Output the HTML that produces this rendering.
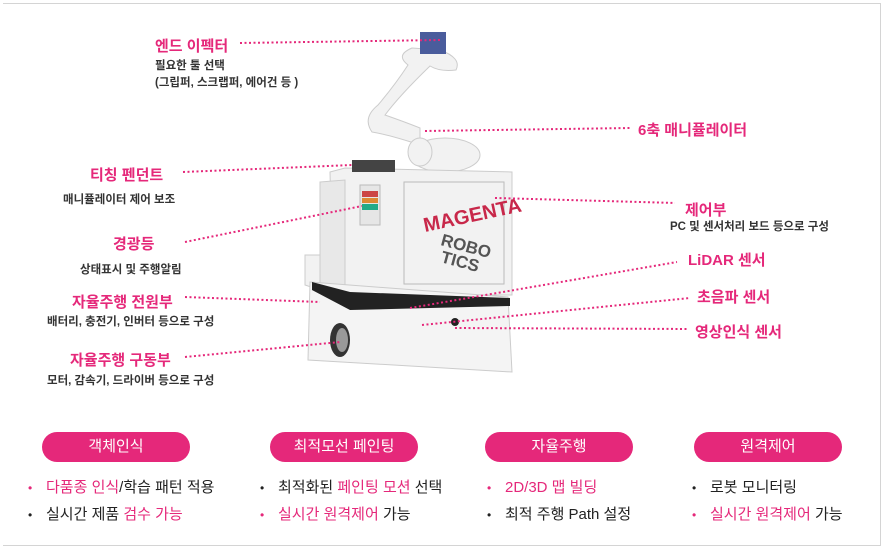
<!DOCTYPE html>
<html><head><meta charset="utf-8"><style>
body{margin:0;width:883px;height:553px;background:#fff;overflow:hidden;font-family:"Liberation Sans","Noto Sans CJK KR",sans-serif}
.frame{position:absolute;left:3px;top:3px;width:877px;height:541px;border:1px solid #d4d4d4;border-left:none}
.t{position:absolute;white-space:nowrap}
.p{color:#e5287a;font-weight:bold;font-size:15px}
.s{color:#333;font-weight:bold;font-size:11.5px;line-height:17px}
.pill{position:absolute;top:432px;width:148px;height:30px;border-radius:15px;background:#e5287a;color:#fff;font-size:15px;text-align:center;line-height:30px}
.b{position:absolute;font-size:15px;color:#222;white-space:nowrap}
.b i{font-style:normal;color:#e5287a}
.dot{display:inline-block;width:18px;font-size:12px}
</style></head><body>
<div class="frame"></div>
<svg width="883" height="553" style="position:absolute;left:0;top:0">
<g fill="#f2f2f2" stroke="#ccc" stroke-width="1">
<path d="M408 65 Q395 55 412 48 L440 50 Q462 58 456 70 Q440 72 430 66 Q400 95 385 115 Q405 122 420 128 L420 145 Q390 135 372 132 Q362 118 378 105 Q395 85 408 65Z"/>
<ellipse cx="445" cy="155" rx="35" ry="17"/>
<ellipse cx="420" cy="152" rx="12" ry="14"/>
<path d="M330 172 L345 168 L512 172 L512 295 L333 295Z"/>
<path d="M320 182 L345 180 L345 295 L320 290Z" fill="#e8e8e8"/>
<path d="M305 255 L320 255 L320 290 L305 285Z"/>
<path d="M310 282 L508 297 L512 372 L308 360Z" fill="#f4f4f4"/>
</g>
<rect x="420" y="32" width="26" height="22" fill="#4a5c9c"/>
<path d="M352 160 L395 160 L395 172 L352 172Z" fill="#444"/>
<path d="M312 282 L350 292 L510 298 L510 306 L350 310 L312 290Z" fill="#222"/>
<rect x="360" y="185" width="20" height="40" fill="#e6e6e6" stroke="#bbb"/>
<rect x="362" y="191" width="16" height="6" fill="#c44"/><rect x="362" y="198" width="16" height="5" fill="#d83"/><rect x="362" y="204" width="16" height="6" fill="#2a8"/>
<rect x="404" y="182" width="100" height="102" fill="none" stroke="#bbb"/>
<text x="425" y="232" font-size="20" font-weight="bold" fill="#c8284a" font-family="Liberation Sans" transform="rotate(-12 425 232)">MAGENTA</text>
<text x="440" y="245" font-size="17" font-weight="bold" fill="#555" font-family="Liberation Sans" transform="rotate(15 440 245)">ROBO</text>
<text x="440" y="262" font-size="17" font-weight="bold" fill="#555" font-family="Liberation Sans" transform="rotate(15 440 262)">TICS</text>
<ellipse cx="340" cy="340" rx="10" ry="17" fill="#333"/><ellipse cx="342" cy="340" rx="6" ry="12" fill="#999"/>
<circle cx="455" cy="322" r="4" fill="#222"/>
<g stroke="#e5287a" stroke-width="2" stroke-dasharray="2 2.5" fill="none">
<line x1="240" y1="43" x2="440" y2="40"/>
<line x1="425" y1="131" x2="630" y2="128"/>
<line x1="183" y1="172" x2="352" y2="165"/>
<line x1="495" y1="198" x2="675" y2="203"/>
<line x1="185" y1="242" x2="362" y2="206"/>
<line x1="410" y1="308" x2="677" y2="262"/>
<line x1="185" y1="297" x2="320" y2="302"/>
<line x1="422" y1="325" x2="690" y2="298"/>
<line x1="455" y1="328" x2="688" y2="329"/>
<line x1="185" y1="357" x2="340" y2="342"/>
</g>
</svg>
<div class="t p" style="left:155px;top:35px">엔드 이펙터</div>
<div class="t s" style="left:155px;top:58px">필요한 툴 선택<br>(그립퍼, 스크랩퍼, 에어건 등 )</div>
<div class="t p" style="left:638px;top:119px">6축 매니퓰레이터</div>
<div class="t p" style="left:90px;top:164px">티칭 펜던트</div>
<div class="t s" style="left:63px;top:192px">매니퓰레이터 제어 보조</div>
<div class="t p" style="left:685px;top:199px">제어부</div>
<div class="t s" style="left:670px;top:219px">PC 및 센서처리 보드 등으로 구성</div>
<div class="t p" style="left:113px;top:233px">경광등</div>
<div class="t s" style="left:80px;top:262px">상태표시 및 주행알림</div>
<div class="t p" style="left:688px;top:249px">LiDAR 센서</div>
<div class="t p" style="left:72px;top:291px">자율주행 전원부</div>
<div class="t s" style="left:47px;top:314px">배터리, 충전기, 인버터 등으로 구성</div>
<div class="t p" style="left:697px;top:286px">초음파 센서</div>
<div class="t p" style="left:695px;top:321px">영상인식 센서</div>
<div class="t p" style="left:70px;top:349px">자율주행 구동부</div>
<div class="t s" style="left:47px;top:373px">모터, 감속기, 드라이버 등으로 구성</div>
<div class="pill" style="left:42px">객체인식</div>
<div class="pill" style="left:270px">최적모선 페인팅</div>
<div class="pill" style="left:485px">자율주행</div>
<div class="pill" style="left:694px">원격제어</div>
<div class="b" style="left:28px;top:476px"><span class="dot" style="color:#e5287a">•</span><i>다품종 인식</i>/학습 패턴 적용</div>
<div class="b" style="left:28px;top:503px"><span class="dot">•</span>실시간 제품 <i>검수 가능</i></div>
<div class="b" style="left:260px;top:476px"><span class="dot">•</span>최적화된 <i>페인팅 모션</i> 선택</div>
<div class="b" style="left:260px;top:503px"><span class="dot" style="color:#e5287a">•</span><i>실시간 원격제어</i> 가능</div>
<div class="b" style="left:487px;top:476px"><span class="dot" style="color:#e5287a">•</span><i>2D/3D 맵 빌딩</i></div>
<div class="b" style="left:487px;top:503px"><span class="dot">•</span>최적 주행 Path 설정</div>
<div class="b" style="left:692px;top:476px"><span class="dot">•</span>로봇 모니터링</div>
<div class="b" style="left:692px;top:503px"><span class="dot" style="color:#e5287a">•</span><i>실시간 원격제어</i> 가능</div>
</body></html>
